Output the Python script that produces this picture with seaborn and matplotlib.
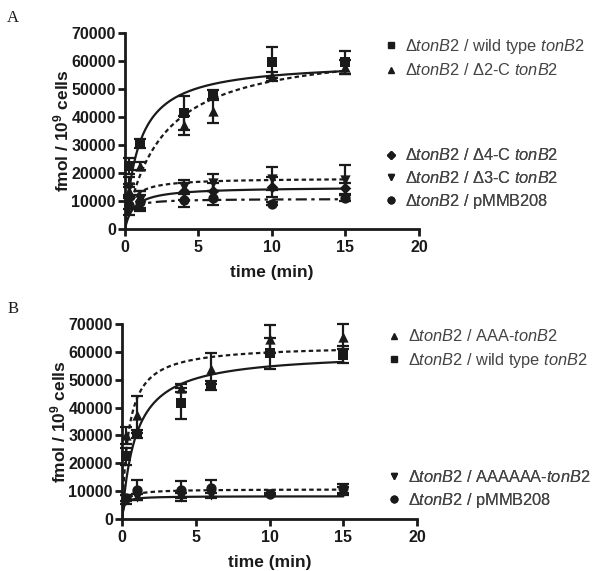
import matplotlib
matplotlib.use("Agg")
import matplotlib.pyplot as plt
from matplotlib.lines import Line2D
import seaborn as sns
import numpy as np
import pandas as pd

# sampling times (min)
time_points = [0.25, 1, 4, 6, 10, 15]

# Panel A
a_wt = [22500, 30500, 41500, 48000, 59500, 59500]
a_wt_err = [3000, 1500, 6000, 1500, 5500, 4000]
a_d2c = [13500, 22500, 37000, 42000, 54500, 58000]
a_d2c_err = [2500, 1500, 3500, 4000, 1500, 2500]
a_d3c = [15000, 10500, 15000, 16500, 18000, 17500]
a_d3c_err = [3500, 3000, 2500, 3000, 4000, 5500]
a_d4c = [11000, 10000, 13500, 13500, 15000, 14500]
a_d4c_err = [4000, 3500, 3000, 3000, 3500, 2000]
a_pmmb = [8500, 9500, 10500, 11000, 9000, 11000]
a_pmmb_err = [3500, 2500, 2500, 2500, 500, 1000]

# Panel B
b_wt = [22500, 30500, 41500, 48000, 59500, 59000]
b_wt_err = [3000, 1500, 5500, 1500, 5500, 3000]
b_aaa = [30000, 37500, 47000, 54000, 64500, 65500]
b_aaa_err = [3000, 6500, 1500, 5500, 5000, 4500]
b_a6 = [7000, 8000, 8000, 8500, 9000, 10000]
b_a6_err = [1500, 1000, 1500, 1000, 500, 1500]
b_pmmb = [7500, 10500, 10500, 11000, 9000, 11000]
b_pmmb_err = [1000, 3500, 3000, 3000, 500, 1500]

# hyperbolic fit parameters (Bmax, Kd)
fit_a_wt = (60000, 0.95)
fit_a_d2c = (66000, 2.5)
fit_a_d3c = (18200, 0.4)
fit_a_d4c = (15000, 0.6)
fit_a_pmmb = (10800, 0.25)
fit_b_wt = (60000, 0.95)
fit_b_aaa = (62500, 0.45)
fit_b_a6 = (8200, 0.12)
fit_b_pmmb = (10700, 0.2)

sns.set_style("ticks")
plt.rcParams["font.family"] = ["Liberation Sans", "DejaVu Sans"]
plt.rcParams["mathtext.fontset"] = "custom"
plt.rcParams["mathtext.rm"] = "Liberation Sans"
plt.rcParams["mathtext.it"] = "Liberation Sans:italic"
plt.rcParams["mathtext.bf"] = "Liberation Sans:bold"

fig = plt.figure(figsize=(6.01, 5.71), dpi=100)
ax_a = fig.add_axes([0.208, 0.599, 0.489, 0.343])
ax_b = fig.add_axes([0.203, 0.091, 0.491, 0.3415])

t_fit = np.linspace(0, 15, 400)
ink = "#1a1a1a"


def draw_series(ax, y, err, fit, marker, ms, ls):
    bmax, kd = fit
    curve = pd.DataFrame({"t": t_fit, "y": bmax * t_fit / (kd + t_fit)})
    sns.lineplot(data=curve, x="t", y="y", ax=ax, color=ink, lw=1.6,
                 linestyle=ls, legend=False)
    ax.errorbar(time_points, y, yerr=err, fmt="none", ecolor=ink,
                elinewidth=1.6, capsize=4, capthick=1.6, clip_on=False)
    pts = pd.DataFrame({"t": time_points, "y": y})
    sns.scatterplot(data=pts, x="t", y="y", ax=ax, marker=marker, s=ms,
                    color=ink, edgecolor=ink, linewidth=0, clip_on=False,
                    zorder=5, legend=False)


dotted = (0, (2, 1.4))
dashdot = (0, (5, 2, 1.5, 2))

draw_series(ax_a, a_wt, a_wt_err, fit_a_wt, "s", 60, "-")
draw_series(ax_a, a_d2c, a_d2c_err, fit_a_d2c, "^", 55, dotted)
draw_series(ax_a, a_d3c, a_d3c_err, fit_a_d3c, "v", 55, dotted)
draw_series(ax_a, a_d4c, a_d4c_err, fit_a_d4c, "D", 35, "-")
draw_series(ax_a, a_pmmb, a_pmmb_err, fit_a_pmmb, "o", 55, dashdot)

draw_series(ax_b, b_wt, b_wt_err, fit_b_wt, "s", 60, "-")
draw_series(ax_b, b_aaa, b_aaa_err, fit_b_aaa, "^", 55, dotted)
draw_series(ax_b, b_a6, b_a6_err, fit_b_a6, "v", 55, "-")
draw_series(ax_b, b_pmmb, b_pmmb_err, fit_b_pmmb, "o", 55, dotted)

for ax in (ax_a, ax_b):
    ax.set_xlim(0, 20)
    ax.set_ylim(0, 70000)
    ax.set_xticks([0, 5, 10, 15, 20])
    ax.set_yticks(range(0, 70001, 10000))
    sns.despine(ax=ax)
    for side in ("left", "bottom"):
        ax.spines[side].set_linewidth(2)
        ax.spines[side].set_color(ink)
    ax.tick_params(width=2, length=5, color=ink, labelsize=11.5, pad=3,
                   labelcolor=ink)
    ax.tick_params(axis="y", pad=1.5)
    for lab in ax.get_xticklabels() + ax.get_yticklabels():
        lab.set_fontweight("bold")
    ax.set_xlabel("time (min)", fontsize=12.5, fontweight="bold", color=ink,
                  labelpad=7)
    ax.set_ylabel(r"fmol / 10$^{\mathbf{9}}$ cells", fontsize=12.5,
                  fontweight="bold", color=ink, labelpad=0)


def add_legend(ax, entries, anchor):
    handles = [Line2D([], [], linestyle="none", marker=m, markersize=s,
                      color=ink) for m, s, _ in entries]
    labels = [lab for _, _, lab in entries]
    leg = ax.legend(handles, labels, loc="upper left", bbox_to_anchor=anchor,
                    bbox_transform=fig.transFigure, frameon=False,
                    fontsize=11.8, handlelength=0.8, handletextpad=0.45,
                    labelspacing=0.38, borderpad=0, borderaxespad=0,
                    labelcolor="#444444")
    ax.add_artist(leg)


tb = r"$\Delta\mathit{tonB2}$"
add_legend(ax_a, [("s", 4.8, tb + r" / wild type $\mathit{tonB2}$"),
                  ("^", 4.8, tb + r" / $\Delta$2-C $\mathit{tonB2}$")],
           (0.64, 0.935))
add_legend(ax_a, [("D", 3.8, tb + r" / $\Delta$4-C $\mathit{tonB2}$"),
                  ("v", 4.8, tb + r" / $\Delta$3-C $\mathit{tonB2}$"),
                  ("o", 4.8, tb + " / pMMB208")],
           (0.64, 0.742))
add_legend(ax_b, [("^", 4.8, tb + r" / AAA-$\mathit{tonB2}$"),
                  ("s", 4.8, tb + r" / wild type $\mathit{tonB2}$")],
           (0.645, 0.425))
add_legend(ax_b, [("v", 4.8, tb + r" / AAAAAA-$\mathit{tonB2}$"),
                  ("o", 4.8, tb + " / pMMB208")],
           (0.645, 0.179))

fig.text(0.012, 0.962, "A", family="Liberation Serif", fontsize=12, color=ink)
fig.text(0.012, 0.452, "B", family="Liberation Serif", fontsize=12, color=ink)

fig.savefig("out.png", dpi=100)
